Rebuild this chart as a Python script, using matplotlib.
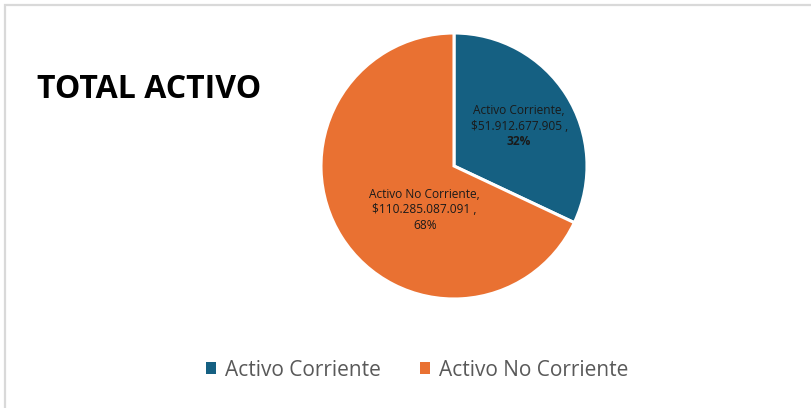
import matplotlib
matplotlib.use("Agg")
import matplotlib.pyplot as plt
from matplotlib.patches import Rectangle
import numpy as np

categories = ["Activo Corriente", "Activo No Corriente"]
values = [51912677905, 110285087091]
value_labels = ["$51.912.677.905 ,", "$110.285.087.091 ,"]
pct_labels = ["32%", "68%"]
colors = ["#156082", "#E97132"]
title = "TOTAL ACTIVO"

W, H = 812, 408
fig = plt.figure(figsize=(W / 100, H / 100), dpi=100)
fig.patch.set_facecolor("white")

# chart border (right and bottom edges lie outside the image)
fig.patches.append(Rectangle((5 / W, -0.05), 1.1, (H - 5) / H + 0.05, transform=fig.transFigure,
                             fill=False, edgecolor="#D9D9D9", linewidth=1.6))

cx, cy, r = 454, 166, 133
ax = fig.add_axes([(cx - r) / W, (H - cy - r) / H, 2 * r / W, 2 * r / H])
ax.set_aspect("equal")
wedges, _ = ax.pie(values, colors=colors, startangle=90, counterclock=False,
                   wedgeprops=dict(edgecolor="white", linewidth=2.2), radius=1.0)
ax.set_xlim(-1, 1)
ax.set_ylim(-1, 1)
ax.axis("off")

font = "Open Sans"
label_pos = [(0.49, 0.30), (-0.22, -0.33)]
lh = 0.118
fs = 8.6
for i, (x, y) in enumerate(label_pos):
    ax.text(x, y + lh, categories[i] + ",", ha="center", va="center", fontsize=fs,
            family=font, color="#1a1a1a")
    ax.text(x, y, value_labels[i], ha="center", va="center", fontsize=fs,
            family=font, color="#1a1a1a")
    ax.text(x, y - lh, pct_labels[i], ha="center", va="center", fontsize=fs,
            family=font, color="#1a1a1a", fontweight="bold" if i == 0 else "normal")

fig.text(37 / W, 1 - 89 / H, title, ha="left", va="center", fontsize=23,
         fontweight="bold", family=font, color="black")

handles = [Rectangle((0, 0), 1, 1, facecolor=c, edgecolor="none") for c in colors]
leg = fig.legend(handles, categories, loc="center", bbox_to_anchor=(417 / W, 1 - 370 / H),
                 ncol=2, frameon=False, handlelength=0.5, handleheight=0.5,
                 handletextpad=0.4, columnspacing=1.9,
                 prop=dict(family=font, size=15))
for t in leg.get_texts():
    t.set_color("#595959")

fig.savefig("out.png", dpi=100, facecolor="white")
